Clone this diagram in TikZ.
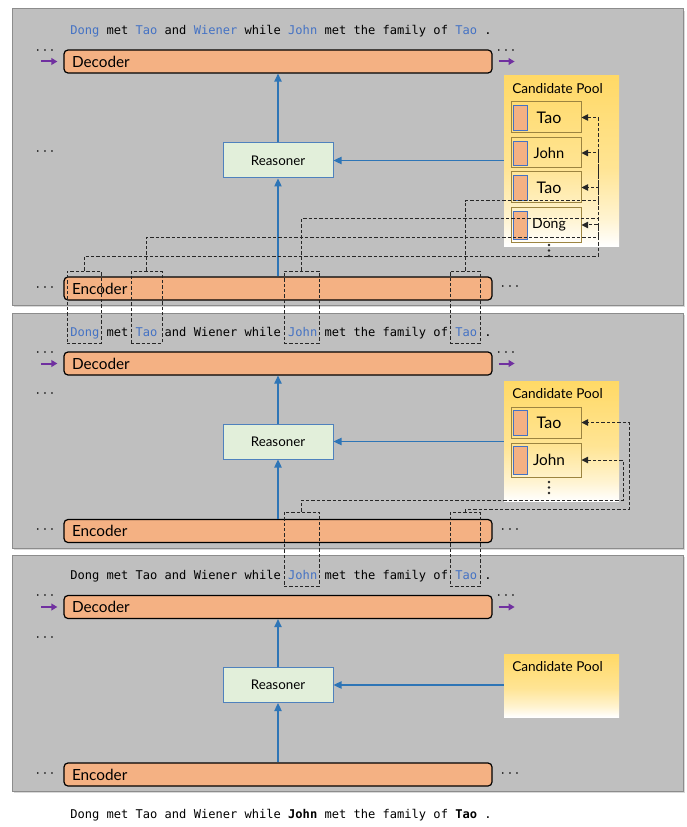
\documentclass[tikz,border=0pt]{standalone}
\usepackage{fontspec}
\setmainfont{Lato}
\newfontfamily\monof{DejaVu Sans Mono}
\usetikzlibrary{arrows.meta,shadows,fit}
\definecolor{panelgray}{HTML}{BFBFBF}
\definecolor{panelborder}{HTML}{8C8C8C}
\definecolor{barfill}{HTML}{F4B183}
\definecolor{reafill}{HTML}{E2EFDA}
\definecolor{reaborder}{HTML}{4F81BD}
\definecolor{arrowblue}{HTML}{2E75B6}
\definecolor{wordblue}{HTML}{4472C4}
\definecolor{poolY}{HTML}{FFD966}
\definecolor{itemborder}{HTML}{9C8440}
\definecolor{purp}{HTML}{7030A0}
\pgfdeclareverticalshading{poolshade}{100bp}{color(0bp)=(white); color(25bp)=(white); color(33bp)=(poolY!30!white); color(48bp)=(poolY!70!white); color(75bp)=(poolY); color(100bp)=(poolY)}
\newcommand{\pxu}{0.75pt}
\newcommand{\bw}[1]{\textcolor{wordblue}{#1}}
\begin{document}
\begin{tikzpicture}[x=0.75pt,y=-0.75pt,
 panel/.style={fill=panelgray, draw=panelborder, line width=0.75pt, drop shadow={shadow xshift=1.2pt, shadow yshift=-1.2pt, opacity=0.3}},
 bar/.style={draw=black, line width=0.9pt, rounded corners=3pt, fill=barfill, minimum width=428*\pxu, minimum height=23*\pxu, text width=309pt, inner xsep=6pt, inner ysep=0pt, align=left, font=\fontsize{11.5}{12}\selectfont},
 reasoner/.style={draw=reaborder, line width=0.75pt, fill=reafill, minimum width=110*\pxu, minimum height=35*\pxu, inner sep=0pt, font=\fontsize{10}{12}\selectfont},
 pool/.style={shade, shading=poolshade, minimum width=115*\pxu, inner sep=0pt},
 pooltitle/.style={anchor=west, inner sep=0pt, font=\fontsize{10.2}{12}\selectfont},
 item/.style={draw=itemborder, line width=0.75pt, minimum width=70*\pxu, inner sep=0pt,
   path picture={\draw[fill=barfill, draw=wordblue, line width=0.6pt] ([xshift=1.5pt,yshift=-2.25pt]path picture bounding box.north west) rectangle ([xshift=12pt,yshift=2.25pt]path picture bounding box.south west);}},
 dbox/.style={draw=black!85, line width=0.75pt, dash pattern=on 2.5pt off 1.5pt, inner sep=0pt},
 dconn/.style={draw=black!85, line width=0.75pt, dash pattern=on 2.5pt off 1.5pt, -{Triangle[length=5pt,width=5pt]}},
 barrow/.style={draw=arrowblue, line width=0.9pt, -{Triangle[length=6pt,width=5.5pt]}},
 parrow/.style={draw=purp, line width=1.5pt, -{Triangle[length=4.5pt,width=5pt]}},
 dots/.style={inner sep=0pt, font=\fontsize{12}{12}\selectfont},
 vdot/.style={fill=black!85},
 sent/.style={anchor=west, inner sep=0pt, font=\monof\fontsize{9.05}{11}\selectfont}
]
\useasboundingbox (0,0) rectangle (686,827);
% panels
\path[panel] (12,9) rectangle (683,305);
\path[panel] (12,313) rectangle (683,548);
\path[panel] (12,555) rectangle (683,791);

% sentences
\node[sent] (s1) at (70,31) {\bw{Dong} met \bw{Tao} and \bw{Wiener} while \bw{John} met the family of \bw{Tao} .};
\node[sent] (s2) at (70,333) {\bw{Dong} met \bw{Tao} and Wiener while \bw{John} met the family of \bw{Tao} .};
\node[sent] (s3) at (70,576) {Dong met Tao and Wiener while \bw{John} met the family of \bw{Tao} .};
\node[sent] (s4) at (70,815) {Dong met Tao and Wiener while \textbf{John} met the family of \textbf{Tao} .};

% ---------- panel 1
\node[bar] (dec1) at (278,61.5) {Decoder};
\node[bar] (enc1) at (278,288.5) {Encoder};
\node[reasoner] (rea1) at (278,160.5) {Reasoner};
\node[pool, minimum height=170*\pxu] (pool1) at (561.5,161) {};
\node[pooltitle] (pt1) at (512,89) {Candidate Pool};
\node[item, minimum height=31*\pxu, font=\fontsize{12}{14}\selectfont] (it1a) at (546,117.5) {\hspace{4.5pt}Tao};
\node[item, minimum height=30*\pxu, font=\fontsize{11}{13}\selectfont] (it1b) at (546,153) {\hspace{4.5pt}John};
\node[item, minimum height=31*\pxu, font=\fontsize{12}{14}\selectfont] (it1c) at (546,187.5) {\hspace{4.5pt}Tao};
\node[item, minimum height=34*\pxu, font=\fontsize{10.5}{12}\selectfont] (it1d) at (546,225) {\hspace{4.5pt}Dong};
\foreach \yy in {245,250.5,256} \fill[vdot] (549,\yy) circle (1pt);
\node[dots] (l1a) at (45,51) {$\cdots$};
\node[dots] (r1a) at (506,51) {$\cdots$};
\node[dots] (l1b) at (45,152) {$\cdots$};
\node[dots] (l1c) at (45,288) {$\cdots$};
\node[dots] (r1c) at (510,287) {$\cdots$};
\draw[parrow] ([xshift=-16.5pt]dec1.west) -- ([xshift=-4.5pt]dec1.west);
\draw[parrow] ([xshift=4.5pt]dec1.east) -- ([xshift=16.5pt]dec1.east);
\draw[barrow] (rea1.north) -- (dec1.south);
\draw[barrow] (enc1.north) -- (rea1.south);
\draw[barrow] (pool1.west |- rea1.east) -- (rea1.east);

% ---------- panel 2
\node[bar] (dec2) at (278,363.5) {Decoder};
\node[bar] (enc2) at (278,531) {Encoder};
\node[reasoner] (rea2) at (278,441.5) {Reasoner};
\node[pool, minimum height=120*\pxu] (pool2) at (561.5,441) {};
\node[pooltitle] (pt2) at (512,394) {Candidate Pool};
\node[item, minimum height=31*\pxu, font=\fontsize{12}{14}\selectfont] (it2a) at (546,422.5) {\hspace{4.5pt}Tao};
\node[item, minimum height=34*\pxu, font=\fontsize{11.5}{13}\selectfont] (it2b) at (546,460) {\hspace{4.5pt}John};
\foreach \yy in {482,487.5,493} \fill[vdot] (549,\yy) circle (1pt);
\node[dots] (l2a) at (45,353) {$\cdots$};
\node[dots] (r2a) at (506,353) {$\cdots$};
\node[dots] (l2b) at (45,394) {$\cdots$};
\node[dots] (l2c) at (45,530) {$\cdots$};
\node[dots] (r2c) at (510,530) {$\cdots$};
\draw[parrow] ([xshift=-16.5pt]dec2.west) -- ([xshift=-4.5pt]dec2.west);
\draw[parrow] ([xshift=4.5pt]dec2.east) -- ([xshift=16.5pt]dec2.east);
\draw[barrow] (rea2.north) -- (dec2.south);
\draw[barrow] (enc2.north) -- (rea2.south);
\draw[barrow] (pool2.west |- rea2.east) -- (rea2.east);

% ---------- panel 3
\node[bar] (dec3) at (278,607) {Decoder};
\node[bar] (enc3) at (278,774.5) {Encoder};
\node[reasoner] (rea3) at (278,685) {Reasoner};
\node[pool, minimum height=63*\pxu] (pool3) at (561.5,685.5) {};
\node[pooltitle] (pt3) at (512,667) {Candidate Pool};
\node[dots] (l3a) at (45,596) {$\cdots$};
\node[dots] (r3a) at (506,596) {$\cdots$};
\node[dots] (l3b) at (45,638) {$\cdots$};
\node[dots] (l3c) at (45,774) {$\cdots$};
\node[dots] (r3c) at (510,774) {$\cdots$};
\draw[parrow] ([xshift=-16.5pt]dec3.west) -- ([xshift=-4.5pt]dec3.west);
\draw[parrow] ([xshift=4.5pt]dec3.east) -- ([xshift=16.5pt]dec3.east);
\draw[barrow] (rea3.north) -- (dec3.south);
\draw[barrow] (enc3.north) -- (rea3.south);
\draw[barrow] (pool3.west |- rea3.east) -- (rea3.east);

% ---------- dashed word boxes and links
\node[dbox, fit={(67,271) (101,343)}] (d1a) {};
\node[dbox, fit={(131,271) (162,343)}] (d1b) {};
\node[dbox, fit={(284,271) (319,343)}] (d1c) {};
\node[dbox, fit={(450,271) (480,343)}] (d1d) {};
\node[dbox, fit={(284,512) (319,586)}] (d2c) {};
\node[dbox, fit={(450,512) (480,586)}] (d2d) {};

\draw[dconn] (d1a.north) |- (598,256) |- (it1d.east);
\draw[dconn] (d1b.north) |- (598,237) |- (it1c.east);
\draw[dconn] (d1c.north) |- (598,219) |- (it1b.east);
\draw[dconn] (d1d.north) |- (598,201) |- (it1a.east);
\draw[dconn] (d2c.north) |- (623,500) |- (it2b.east);
\draw[dconn] (d2d.north) |- (629,509) |- (it2a.east);
\end{tikzpicture}
\end{document}
